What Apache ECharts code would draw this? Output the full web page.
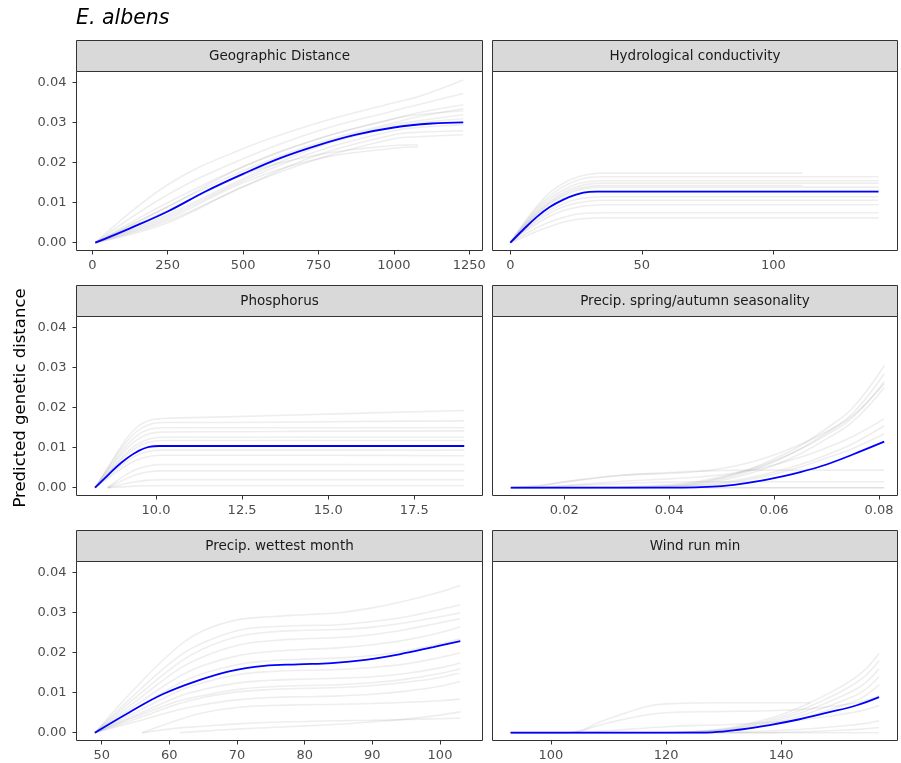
<!DOCTYPE html>
<html><head><meta charset="utf-8">
<script src="https://cdn.jsdelivr.net/npm/echarts@6/dist/echarts.min.js"></script>
<style>html,body{margin:0;padding:0;background:#fff}#c{width:901px;height:763px}</style>
</head><body><div id="c"></div><script>
// ---------------- data ----------------
const plotTitle = 'E. albens';
const yTitle = 'Predicted genetic distance';
const panelNames = ['Geographic Distance', 'Hydrological conductivity', 'Phosphorus',
  'Precip. spring/autumn seasonality', 'Precip. wettest month', 'Wind run min'];
const yTicks = [0, 0.01, 0.02, 0.03, 0.04];
const yRange = [-0.00195, 0.0428];

// Geographic Distance
const geoTicks = [0, 250, 500, 750, 1000, 1250];
const geoRange = [-52.4, 1293.8];
const geoBlueX = [10, 125, 250, 375, 500, 625, 750, 875, 1000, 1125, 1230];
const geoBlueY = [0, 0.0036, 0.0078, 0.0128, 0.0172, 0.0212, 0.0244, 0.0270, 0.0288, 0.0298, 0.0301];
const geoGrayX = [10, 250, 500, 750, 1000, 1080, 1230];
const geoGray = [
  [0, 0.0145, 0.0235, 0.0300, 0.0350, 0.0365, 0.0407],
  [0, 0.0120, 0.0210, 0.0280, 0.0330, 0.0345, 0.0373],
  [0, 0.0100, 0.0190, 0.0260, 0.0310, 0.0325, 0.0345],
  [0, 0.0090, 0.0180, 0.0250, 0.0300, 0.0315, 0.0335],
  [0, 0.0080, 0.0170, 0.0245, 0.0295, 0.0305, 0.0320],
  [0, 0.0070, 0.0160, 0.0240, 0.0290, 0.0300, 0.0310],
  [0, 0.0065, 0.0155, 0.0230, 0.0280, 0.0288, 0.0295],
  [0, 0.0055, 0.0140, 0.0220, 0.0270, 0.0276, 0.0280],
  [0, 0.0050, 0.0140, 0.0210, 0.0260, 0.0265, 0.0270],
  [0, 0.0090, 0.0190, 0.0260, 0.0310, 0.0320, 0.0330],
  [0, 0.0080, 0.0170, 0.0220, 0.0243, 0.0245, null],
  [0, 0.0060, 0.0150, 0.0210, 0.0236, 0.0240, null]
];

// Hydrological conductivity
const hydTicks = [0, 50, 100];
const hydRange = [-6.77, 147.2];
const hydBlueX = [0, 5, 10, 15, 20, 25, 30, 33, 60, 100, 140];
const hydBlueY = [0, 0.0033, 0.0064, 0.0089, 0.0107, 0.0120, 0.0127, 0.01275, 0.01275, 0.01275, 0.01275];
const hydGrayX = [0, 5, 10, 15, 20, 25, 30, 35, 60, 111, 140];
const hydGray = [
  [0, 0.0048, 0.0090, 0.0125, 0.0148, 0.0163, 0.0171, 0.0174, 0.0174, 0.0174, null],
  [0, 0.0045, 0.0085, 0.0117, 0.0140, 0.0155, 0.0163, 0.0165, 0.0165, 0.0165, 0.0165],
  [0, 0.0042, 0.0080, 0.0110, 0.0131, 0.0146, 0.0153, 0.0155, 0.0155, 0.0155, 0.0155],
  [0, 0.0040, 0.0076, 0.0104, 0.0125, 0.0139, 0.0147, 0.0149, 0.0149, 0.0149, 0.0149],
  [0, 0.0037, 0.0070, 0.0097, 0.0116, 0.0130, 0.0137, 0.0139, 0.0139, 0.0139, 0.0139],
  [0, 0.0035, 0.0066, 0.0091, 0.0110, 0.0122, 0.0128, 0.0130, 0.0130, 0.0130, 0.0130],
  [0, 0.0031, 0.0058, 0.0081, 0.0097, 0.0108, 0.0113, 0.0115, 0.0115, 0.0115, 0.0115],
  [0, 0.0028, 0.0053, 0.0074, 0.0089, 0.0099, 0.0104, 0.0106, 0.0106, 0.0106, 0.0106],
  [0, 0.0025, 0.0047, 0.0066, 0.0080, 0.0088, 0.0093, 0.0095, 0.0095, 0.0095, 0.0095],
  [0, 0.0019, 0.0037, 0.0052, 0.0063, 0.0071, 0.0074, 0.0075, 0.0075, 0.0075, 0.0075],
  [0, 0.0014, 0.0028, 0.0040, 0.0051, 0.0058, 0.0061, 0.0062, 0.0062, 0.0062, 0.0062],
  [0, 0.0038, 0.0072, 0.0100, 0.0120, 0.0134, 0.0141, 0.0143, 0.0143, 0.0143, null]
];

// Phosphorus
const phoTicks = [10, 12.5, 15, 17.5];
const phoRange = [7.692, 19.48];
const phoBlueX = [8.23, 8.6, 9.0, 9.4, 9.8, 10.1, 12, 15, 18.95];
const phoBlueY = [0, 0.0031, 0.0063, 0.00875, 0.0102, 0.01043, 0.01043, 0.01043, 0.01043];
const phoGrayX = [8.23, 8.6, 9.0, 9.4, 9.8, 10.2, 12, 15, 18.95];
const phoGray = [
  [0, 0.0050, 0.0105, 0.0148, 0.0168, 0.0173, 0.0177, 0.0184, 0.0193],
  [0, 0.0048, 0.0098, 0.0138, 0.0158, 0.0163, 0.0163, 0.0165, 0.0167],
  [0, 0.0044, 0.0090, 0.0127, 0.0146, 0.0150, 0.0150, 0.0150, 0.0150],
  [0, 0.0040, 0.0083, 0.0117, 0.0135, 0.0139, 0.0140, 0.0141, 0.0142],
  [0, 0.0036, 0.0075, 0.0106, 0.0122, 0.0126, 0.0126, 0.0126, 0.0126],
  [0, 0.0034, 0.0070, 0.0099, 0.0114, 0.0118, 0.0118, 0.0118, 0.0118],
  [0, 0.0027, 0.0056, 0.0079, 0.0091, 0.0094, 0.0094, 0.0094, 0.0094],
  [0, 0.0023, 0.0048, 0.0068, 0.0078, 0.0081, 0.0081, 0.0081, 0.0080],
  [null, 0, 0.0025, 0.0045, 0.0055, 0.0058, 0.0058, 0.0058, 0.0058],
  [null, 0, 0.0017, 0.0032, 0.0040, 0.0042, 0.0042, 0.0042, 0.0042],
  [null, 0, 0.0008, 0.0015, 0.0019, 0.0020, 0.0020, 0.0020, 0.0020],
  [null, 0, 0.0002, 0.0004, 0.0005, 0.0005, 0.0005, 0.0005, 0.0005]
];

// Precip. spring/autumn seasonality
const psaTicks = [0.02, 0.04, 0.06, 0.08];
const psaRange = [0.00631, 0.08353];
const psaBlueX = [0.0098, 0.02, 0.03, 0.04, 0.045, 0.05, 0.055, 0.06, 0.065, 0.07, 0.075, 0.081];
const psaBlueY = [0, 0, 0, 0, 0.0001, 0.0004, 0.0012, 0.0024, 0.0039, 0.0058, 0.0083, 0.0115];
const psaGrayX = [0.0098, 0.015, 0.02, 0.03, 0.04, 0.045, 0.05, 0.055, 0.06, 0.065, 0.07, 0.075, 0.081];
const psaGray = [
  [0, 0, 0, 0, 0.0005, 0.0012, 0.0025, 0.0045, 0.0072, 0.0105, 0.0148, 0.0200, 0.0305],
  [0, 0, 0, 0, 0.0004, 0.0010, 0.0022, 0.0040, 0.0065, 0.0097, 0.0137, 0.0186, 0.0285],
  [0, 0, 0, 0.0002, 0.0008, 0.0015, 0.0027, 0.0044, 0.0067, 0.0096, 0.0132, 0.0176, 0.0265],
  [0, 0, 0, 0, 0.0003, 0.0008, 0.0018, 0.0034, 0.0056, 0.0085, 0.0122, 0.0165, 0.0250],
  [0, 0.0005, 0.0015, 0.0030, 0.0036, 0.0040, 0.0048, 0.0062, 0.0082, 0.0108, 0.0140, 0.0180, 0.0260],
  [0, 0, 0.0005, 0.0015, 0.0022, 0.0026, 0.0032, 0.0042, 0.0057, 0.0076, 0.0100, 0.0128, 0.0172],
  [0, 0, 0, 0, 0.0002, 0.0006, 0.0013, 0.0024, 0.0039, 0.0058, 0.0082, 0.0110, 0.0155],
  [0, 0, 0, 0, 0.0001, 0.0004, 0.0010, 0.0020, 0.0034, 0.0052, 0.0074, 0.0098, 0.0135],
  [0, 0.0004, 0.0014, 0.0030, 0.0038, 0.0041, 0.0043, 0.0044, 0.0044, 0.0044, 0.0044, 0.0044, 0.0044],
  [0, 0, 0.0004, 0.0010, 0.0014, 0.0015, 0.0015, 0.0015, 0.0015, 0.0015, 0.0015, 0.0015, 0.0015],
  [0, 0, 0, 0, 0, 0, 0, 0, 0, 0, 0, 0, 0],
  [0, 0, 0, 0, 0, 0, 0, 0, 0, 0, 0, 0, 0]
];

// Precip. wettest month
const pwmTicks = [50, 60, 70, 80, 90, 100];
const pwmRange = [46.28, 106.28];
const pwmBlueX = [49, 54, 59, 64, 69, 74, 79, 84, 89, 94, 99, 103];
const pwmBlueY = [0, 0.0050, 0.0096, 0.0129, 0.0154, 0.0167, 0.0171, 0.0174, 0.0182, 0.0196, 0.0214, 0.0229];
const pwmGrayX = [49, 56, 61.5, 65, 70, 75, 80, 85, 90, 95, 100, 103];
const pwmGray = [
  [0, 0.0130, 0.0218, 0.0255, 0.0282, 0.0290, 0.0295, 0.0300, 0.0312, 0.0330, 0.0352, 0.0368],
  [0, 0.0113, 0.0192, 0.0225, 0.0255, 0.0265, 0.0268, 0.0270, 0.0278, 0.0290, 0.0308, 0.0320],
  [0, 0.0102, 0.0176, 0.0210, 0.0240, 0.0252, 0.0256, 0.0258, 0.0264, 0.0275, 0.0290, 0.0300],
  [0, 0.0091, 0.0160, 0.0190, 0.0218, 0.0230, 0.0235, 0.0238, 0.0245, 0.0258, 0.0275, 0.0285],
  [0, 0.0080, 0.0141, 0.0168, 0.0192, 0.0203, 0.0208, 0.0212, 0.0220, 0.0232, 0.0250, 0.0265],
  [0, 0.0070, 0.0124, 0.0148, 0.0170, 0.0180, 0.0184, 0.0187, 0.0193, 0.0205, 0.0222, 0.0235],
  [0, 0.0059, 0.0105, 0.0125, 0.0145, 0.0153, 0.0156, 0.0158, 0.0163, 0.0172, 0.0188, 0.0200],
  [0, 0.0051, 0.0091, 0.0108, 0.0124, 0.0131, 0.0134, 0.0136, 0.0140, 0.0148, 0.0162, 0.0175],
  [0, 0.0040, 0.0073, 0.0088, 0.0102, 0.0108, 0.0111, 0.0113, 0.0118, 0.0126, 0.0138, 0.0150],
  [0, 0.0032, 0.0058, 0.0070, 0.0082, 0.0088, 0.0090, 0.0092, 0.0096, 0.0104, 0.0116, 0.0128],
  [0, 0.0046, 0.0080, 0.0093, 0.0108, 0.0115, 0.0118, 0.0120, 0.0125, 0.0134, 0.0148, 0.0160],
  [null, 0, 0.0033, 0.0050, 0.0063, 0.0068, 0.0070, 0.0071, 0.0073, 0.0076, 0.0080, 0.0084],
  [null, null, 0, 0.0004, 0.0009, 0.0013, 0.0017, 0.0021, 0.0027, 0.0034, 0.0044, 0.0052],
  [null, 0, 0.0012, 0.0016, 0.0022, 0.0026, 0.0028, 0.0030, 0.0031, 0.0033, 0.0035, 0.0036]
];

// Wind run min
const wrmTicks = [100, 120, 140];
const wrmRange = [89.86, 160.2];
const wrmBlueX = [93, 103, 113, 123, 128, 133, 138, 143, 148, 153, 157];
const wrmBlueY = [0, 0, 0, 0, 0.0001, 0.0008, 0.0019, 0.0033, 0.0050, 0.0068, 0.0089];
const wrmGrayX = [93, 103, 110, 120, 130, 135, 140, 145, 150, 154, 157];
const wrmGray = [
  [0, 0, 0, 0, 0.0010, 0.0025, 0.0045, 0.0075, 0.0112, 0.0150, 0.0198],
  [0, 0, 0, 0, 0.0008, 0.0021, 0.0039, 0.0066, 0.0100, 0.0135, 0.0180],
  [0, 0, 0, 0, 0.0007, 0.0018, 0.0034, 0.0058, 0.0088, 0.0118, 0.0160],
  [0, 0, 0, 0, 0.0006, 0.0015, 0.0029, 0.0050, 0.0076, 0.0102, 0.0140],
  [0, 0, 0, 0, 0.0005, 0.0013, 0.0025, 0.0042, 0.0065, 0.0087, 0.0120],
  [0, 0, 0.0035, 0.0072, 0.0075, 0.0075, 0.0075, 0.0075, null, null, null],
  [0, 0, 0.0025, 0.0050, 0.0053, 0.0054, 0.0056, 0.0060, 0.0068, 0.0078, 0.0092],
  [0, 0, 0.0005, 0.0015, 0.0020, 0.0023, 0.0028, 0.0035, 0.0045, 0.0055, 0.0068],
  [0, 0, 0, 0, 0.0001, 0.0003, 0.0006, 0.0010, 0.0016, 0.0022, 0.0030],
  [0, 0, 0, 0, 0, 0, 0.0001, 0.0003, 0.0006, 0.0009, 0.0013],
  [0, 0, 0, 0, 0, 0, 0, 0, 0, 0, 0]
];

// ---------------- assembly ----------------
const panels = [
  {ticks: geoTicks, range: geoRange, bx: geoBlueX, by: geoBlueY, gx: geoGrayX, gy: geoGray, dec: 0},
  {ticks: hydTicks, range: hydRange, bx: hydBlueX, by: hydBlueY, gx: hydGrayX, gy: hydGray, dec: 0},
  {ticks: phoTicks, range: phoRange, bx: phoBlueX, by: phoBlueY, gx: phoGrayX, gy: phoGray, dec: 1},
  {ticks: psaTicks, range: psaRange, bx: psaBlueX, by: psaBlueY, gx: psaGrayX, gy: psaGray, dec: 2},
  {ticks: pwmTicks, range: pwmRange, bx: pwmBlueX, by: pwmBlueY, gx: pwmGrayX, gy: pwmGray, dec: 0},
  {ticks: wrmTicks, range: wrmRange, bx: wrmBlueX, by: wrmBlueY, gx: wrmGrayX, gy: wrmGray, dec: 0}
];

const FONT = 'DejaVu Sans';
const colLeft = [76.5, 492.5];
const colWidth = [406, 405];
const rowTop = [71.5, 316.5, 561.5];
const panelH = 179;
const stripH = 31;

const grids = [], xAxes = [], yAxes = [], series = [], graphics = [];

panels.forEach((p, i) => {
  const col = i % 2, row = Math.floor(i / 2);
  const left = colLeft[col], top = rowTop[row], w = colWidth[col];
  grids.push({left: left, top: top, width: w, height: panelH, show: true,
    borderColor: '#333333', borderWidth: 1, backgroundColor: '#ffffff', containLabel: false});
  xAxes.push({type: 'value', gridIndex: i, min: p.range[0], max: p.range[1], position: 'bottom',
    axisLine: {show: false, onZero: false}, splitLine: {show: false},
    axisTick: {show: true, length: 4, lineStyle: {color: '#333333', width: 1}, customValues: p.ticks},
    axisLabel: {customValues: p.ticks, color: '#4D4D4D', fontSize: 13, fontFamily: FONT, margin: 9,
      formatter: (v) => Number(v).toFixed(p.dec)}});
  yAxes.push({type: 'value', gridIndex: i, min: yRange[0], max: yRange[1], position: 'left',
    axisLine: {show: false, onZero: false}, splitLine: {show: false},
    axisTick: {show: col === 0, length: 4, lineStyle: {color: '#333333', width: 1}, customValues: yTicks},
    axisLabel: {show: col === 0, customValues: yTicks, color: '#4D4D4D', fontSize: 13, fontFamily: FONT, margin: 10,
      formatter: (v) => Number(v).toFixed(2)}});
  p.gy.forEach((g) => {
    const d = [];
    p.gx.forEach((x, k) => { if (g[k] !== null) d.push([x, g[k]]); });
    series.push({type: 'line', xAxisIndex: i, yAxisIndex: i, data: d, smooth: 0.4,
      symbol: 'none', silent: true, z: 2,
      lineStyle: {color: 'rgba(150,150,150,0.16)', width: 1.6}});
  });
  series.push({type: 'line', xAxisIndex: i, yAxisIndex: i,
    data: p.bx.map((x, k) => [x, p.by[k]]), smooth: 0.4, symbol: 'none', silent: true, z: 3,
    lineStyle: {color: '#0000FF', width: 1.8}});
  // strip
  const sTop = top - stripH;
  graphics.push({type: 'rect', shape: {x: left, y: sTop, width: w, height: stripH},
    style: {fill: '#D9D9D9', stroke: '#333333', lineWidth: 1}, z: 10});
  graphics.push({type: 'text', x: left + w / 2, y: sTop + stripH / 2 + 0.5,
    style: {text: panelNames[i], fill: '#1A1A1A', font: '13.5px "DejaVu Sans"', textAlign: 'center', textVerticalAlign: 'middle'}, z: 11});
});

graphics.push({type: 'text', x: 76, y: 19,
  style: {text: plotTitle, fill: '#000000', font: 'italic 20.5px "DejaVu Sans"', textAlign: 'left', textVerticalAlign: 'middle'}});
graphics.push({type: 'text', x: 21, y: 398, rotation: Math.PI / 2,
  style: {text: yTitle, fill: '#000000', font: '16.5px "DejaVu Sans"', textAlign: 'center', textVerticalAlign: 'middle'}});

const chart = echarts.init(document.getElementById('c'), null, {renderer: 'canvas'});
chart.setOption({
  animation: false,
  backgroundColor: '#ffffff',
  grid: grids, xAxis: xAxes, yAxis: yAxes, series: series, graphic: graphics
});
</script></body></html>
